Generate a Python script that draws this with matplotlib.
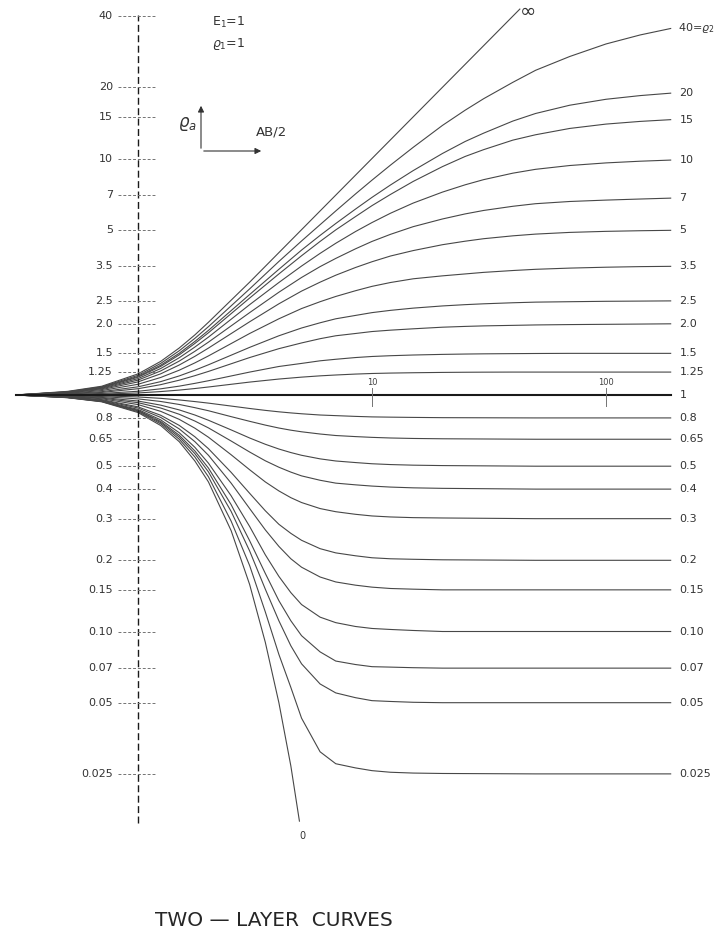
import matplotlib.pyplot as plt

# AB/2 positions (layer-1 thickness E1 = 1) at which the curves were read
ab2_up = [0.3, 0.5, 0.7, 1, 1.25, 1.5, 1.75, 2, 3, 4, 5, 6, 7, 8.5, 10, 12,
          15, 20, 25, 30, 40, 50, 70, 100, 140, 190]
ab2_low = [0.3, 0.5, 0.7, 1, 1.25, 1.5, 1.75, 2, 2.5, 3, 3.5, 4, 4.5, 5, 6,
           7, 8.5, 10, 12, 15, 20, 50, 190]
ab2_inf = [0.3, 0.5, 0.7, 1, 1.25, 1.5, 1.75, 2, 3, 4, 5, 10, 20, 43]
ab2_zero = [0.3, 0.5, 0.7, 1, 1.25, 1.5, 1.75, 2, 2.5, 3, 3.5, 4, 4.5, 4.9]

# apparent resistivity, rho2 > rho1
rho_inf = [1.0, 1.036, 1.089, 1.228, 1.387, 1.58, 1.795, 2.03, 3.0, 4.0, 5.0,
           10.0, 20.0, 43.0]
rho_40 = [1.0, 1.032, 1.083, 1.211, 1.360, 1.538, 1.736, 1.945, 2.81, 3.67,
          4.48, 5.25, 6.0, 7.08, 8.1, 9.38, 11.15, 13.8, 16.0, 17.9, 21.0,
          23.6, 27.0, 30.5, 33.3, 35.5]
rho_20 = [1.0, 1.031, 1.078, 1.198, 1.336, 1.501, 1.684, 1.876, 2.66, 3.40,
          4.10, 4.73, 5.31, 6.11, 6.85, 7.73, 8.89, 10.5, 11.8, 12.8, 14.4,
          15.5, 16.8, 17.8, 18.45, 18.9]
rho_15 = [1.0, 1.029, 1.074, 1.189, 1.321, 1.478, 1.652, 1.833, 2.57, 3.25,
          3.88, 4.46, 4.99, 5.68, 6.32, 7.05, 8.0, 9.24, 10.2, 10.9, 11.96,
          12.6, 13.4, 13.98, 14.35, 14.6]
rho_10 = [1.0, 1.027, 1.068, 1.173, 1.294, 1.437, 1.595, 1.757, 2.41, 2.99,
          3.51, 3.97, 4.38, 4.91, 5.36, 5.87, 6.48, 7.21, 7.74, 8.14, 8.67,
          9.0, 9.34, 9.58, 9.74, 9.85]
rho_7 = [1.0, 1.024, 1.062, 1.156, 1.264, 1.391, 1.530, 1.673, 2.23, 2.72,
         3.14, 3.49, 3.78, 4.15, 4.46, 4.78, 5.15, 5.55, 5.83, 6.03, 6.28,
         6.44, 6.58, 6.67, 6.74, 6.8]
rho_5 = [1.0, 1.021, 1.054, 1.136, 1.229, 1.339, 1.457, 1.579, 2.04, 2.43,
         2.75, 3.0, 3.21, 3.46, 3.66, 3.87, 4.08, 4.32, 4.47, 4.58, 4.71,
         4.79, 4.87, 4.92, 4.95, 4.97]
rho_3_5 = [1.0, 1.017, 1.044, 1.110, 1.186, 1.273, 1.367, 1.463, 1.82, 2.10,
           2.32, 2.48, 2.61, 2.76, 2.88, 2.99, 3.10, 3.19, 3.25, 3.30, 3.36,
           3.40, 3.44, 3.47, 3.49, 3.5]
rho_2_5 = [1.0, 1.013, 1.033, 1.083, 1.139, 1.204, 1.273, 1.342, 1.59, 1.78,
           1.92, 2.02, 2.10, 2.17, 2.23, 2.28, 2.33, 2.38, 2.41, 2.43, 2.455,
           2.47, 2.48, 2.49, 2.495, 2.5]
rho_2_0 = [1.0, 1.010, 1.025, 1.063, 1.106, 1.155, 1.207, 1.258, 1.44, 1.57,
           1.66, 1.73, 1.78, 1.82, 1.855, 1.88, 1.905, 1.935, 1.95, 1.96,
           1.97, 1.978, 1.985, 1.99, 1.995, 2.0]
rho_1_5 = [1.0, 1.006, 1.015, 1.037, 1.062, 1.090, 1.120, 1.149, 1.25, 1.32,
           1.36, 1.395, 1.416, 1.44, 1.455, 1.466, 1.476, 1.485, 1.49, 1.493,
           1.496, 1.498, 1.5, 1.5, 1.5, 1.5]
rho_1_25 = [1.0, 1.003, 1.008, 1.020, 1.034, 1.049, 1.065, 1.081, 1.134, 1.168,
            1.19, 1.205, 1.215, 1.226, 1.233, 1.238, 1.242, 1.246, 1.248,
            1.249, 1.25, 1.25, 1.25, 1.25, 1.25, 1.25]
rho_1 = [1.0, 1.0, 1.0, 1.0, 1.0, 1.0, 1.0, 1.0, 1.0, 1.0, 1.0, 1.0, 1.0,
         1.0, 1.0, 1.0, 1.0, 1.0, 1.0, 1.0, 1.0, 1.0, 1.0, 1.0, 1.0, 1.0]

# apparent resistivity, rho2 < rho1
rho_0_8 = [1.0, .997, .992, .981, .968, .953, .938, .924, .898, .877, .861,
           .849, .840, .833, .823, .818, .812, .808, .806, .804, .802, .80, .80]
rho_0_65 = [1.0, .994, .985, .963, .939, .912, .884, .858, .810, .774, .746,
            .725, .710, .699, .684, .674, .667, .662, .658, .655, .653, .65, .65]
rho_0_5 = [1.0, .991, .977, .943, .906, .865, .823, .782, .712, .658, .619,
           .591, .571, .556, .537, .526, .518, .512, .508, .505, .503, .50, .50]
rho_0_4 = [1.0, .988, .971, .928, .881, .829, .776, .726, .639, .574, .527,
           .495, .472, .455, .436, .424, .417, .412, .408, .405, .403, .40, .40]
rho_0_3 = [1.0, .986, .964, .911, .853, .789, .724, .663, .559, .483, .429,
           .393, .368, .351, .331, .321, .313, .308, .305, .303, .302, .30, .30]
rho_0_2 = [1.0, .982, .956, .891, .821, .744, .666, .593, .471, .384, .324,
           .284, .260, .243, .224, .215, .209, .205, .203, .202, .201, .20, .20]
rho_0_15 = [1.0, .980, .951, .881, .804, .719, .635, .556, .424, .331, .269,
            .229, .203, .187, .170, .162, .157, .154, .152, .151, .150, .15, .15]
rho_0_10 = [1.0, .978, .946, .869, .785, .693, .601, .515, .375, .278, .211,
            .171, .146, .130, .115, .109, .105, .103, .102, .101, .100, .10, .10]
rho_0_07 = [1.0, .977, .942, .862, .773, .676, .580, .491, .344, .242, .176,
            .135, .111, .096, .082, .075, .0725, .071, .0707, .0703, .070, .07,
            .07]
rho_0_05 = [1.0, .976, .940, .857, .765, .664, .565, .473, .322, .219, .151,
            .111, .087, .073, .060, .055, .0525, .051, .0506, .0502, .050, .05,
            .05]
rho_0_025 = [1.0, .975, .938, .850, .755, .650, .547, .451, .293, .190, .121,
             .080, .058, .043, .031, .0276, .0265, .0258, .0254, .0252, .0251,
             .025, .025]
rho_zero = [1.0, .974, .936, .843, .743, .635, .526, .429, .267, .158, .090,
            .050, .027, .0157]

upper_curves = [("40", rho_40), ("20", rho_20), ("15", rho_15), ("10", rho_10),
                ("7", rho_7), ("5", rho_5), ("3.5", rho_3_5), ("2.5", rho_2_5),
                ("2.0", rho_2_0), ("1.5", rho_1_5), ("1.25", rho_1_25)]
lower_curves = [("0.8", rho_0_8), ("0.65", rho_0_65), ("0.5", rho_0_5),
                ("0.4", rho_0_4), ("0.3", rho_0_3), ("0.2", rho_0_2),
                ("0.15", rho_0_15), ("0.10", rho_0_10), ("0.07", rho_0_07),
                ("0.05", rho_0_05), ("0.025", rho_0_025)]

left_ticks = [40, 20, 15, 10, 7, 5, 3.5, 2.5, 2.0, 1.5, 1.25, 0.8, 0.65, 0.5,
              0.4, 0.3, 0.2, 0.15, 0.10, 0.07, 0.05, 0.025]
left_labels = ["40", "20", "15", "10", "7", "5", "3.5", "2.5", "2.0", "1.5",
               "1.25", "0.8", "0.65", "0.5", "0.4", "0.3", "0.2", "0.15",
               "0.10", "0.07", "0.05", "0.025"]

W, H = 724, 932
X_ONE, Y_ONE = 138, 395        # pixel of AB/2 = 1, rho = 1
DEC_X, DEC_Y = 234.0, 236.5    # pixels per decade


def px_x(px):
    return 10 ** ((px - X_ONE) / DEC_X)


def px_y(py):
    return 10 ** ((Y_ONE - py) / DEC_Y)


def fig_xy(px, py):
    return px / W, 1 - py / H


fig = plt.figure(figsize=(W / 100, H / 100), dpi=100)
ax = fig.add_axes([0, 0, 1, 1])
ax.set_xscale("log")
ax.set_yscale("log")
ax.set_xlim(px_x(0), px_x(W))
ax.set_ylim(px_y(H), px_y(0))
ax.axis("off")

line_kw = dict(color="0.28", lw=0.8, solid_capstyle="butt",
               solid_joinstyle="round")
lab_kw = dict(fontsize=8, color="0.2", va="center")

# family of curves
ax.plot(ab2_inf, rho_inf, **line_kw)
ax.plot(ab2_zero, rho_zero, **line_kw)
for name, vals in upper_curves:
    ax.plot(ab2_up, vals, **line_kw)
    if name != "40":
        ax.annotate(name, (ab2_up[-1], vals[-1]), xytext=(6, 0),
                    textcoords="offset points", **lab_kw)
for name, vals in lower_curves:
    ax.plot(ab2_low, vals, **line_kw)
    ax.annotate(name, (ab2_low[-1], vals[-1]), xytext=(6, 0),
                textcoords="offset points", **lab_kw)
ax.plot(ab2_up, rho_1, color="0.1", lw=1.5)
ax.annotate("1", (ab2_up[-1], rho_1[-1]), xytext=(6, 0),
            textcoords="offset points", **lab_kw)
ax.annotate(r"40=$\varrho_2$", (ab2_up[-1], rho_40[-1]), xytext=(5, 0),
            textcoords="offset points", fontsize=8, color="0.2", va="center")
ax.text(px_x(528), px_y(11), "\u221e", fontsize=14, color="0.2",
        ha="center", va="center")
ax.text(px_x(302), px_y(836), "0", fontsize=7, color="0.2",
        ha="center", va="center")

# dashed AB/2 = 1 axis with rho ticks
ax.plot([1, 1], [px_y(823), px_y(15)], color="0.1", lw=1.0, ls=(0, (5, 2.5)))
for v, lab in zip(left_ticks, left_labels):
    ax.plot([px_x(118), px_x(156)], [v, v], color="0.45", lw=0.7,
            ls=(0, (3, 2)))
    ax.text(px_x(113), v, lab, ha="right", **lab_kw)

# AB/2 decade ticks on the rho = 1 line
for v, lab in [(10, "10"), (100, "100")]:
    ax.plot([v, v], [px_y(406), px_y(388)], color="0.45", lw=0.7)
    ax.text(v, px_y(382), lab, fontsize=6, color="0.25", ha="center",
            va="center")

# annotations
fig.text(*fig_xy(212, 22), r"E$_1$=1", fontsize=9, color="0.2", va="center")
fig.text(*fig_xy(212, 44), r"$\varrho_1$=1", fontsize=9, color="0.2",
         va="center")
ax.annotate("", xy=(px_x(201), px_y(103)), xytext=(px_x(201), px_y(151)),
            arrowprops=dict(arrowstyle="-|>", lw=0.8, color="0.2",
                            mutation_scale=9))
ax.annotate("", xy=(px_x(264), px_y(151)), xytext=(px_x(201), px_y(151)),
            arrowprops=dict(arrowstyle="-|>", lw=0.8, color="0.2",
                            mutation_scale=9))
fig.text(*fig_xy(187, 124), r"$\varrho_a$", fontsize=12, color="0.2",
         ha="center", va="center")
fig.text(*fig_xy(256, 132), "AB/2", fontsize=9.5, color="0.2", va="center")

fig.text(*fig_xy(274, 921), "TWO \u2014 LAYER  CURVES", fontsize=14.5,
         color="0.15", ha="center", va="center")

fig.savefig("out.png", dpi=100, facecolor="white")
